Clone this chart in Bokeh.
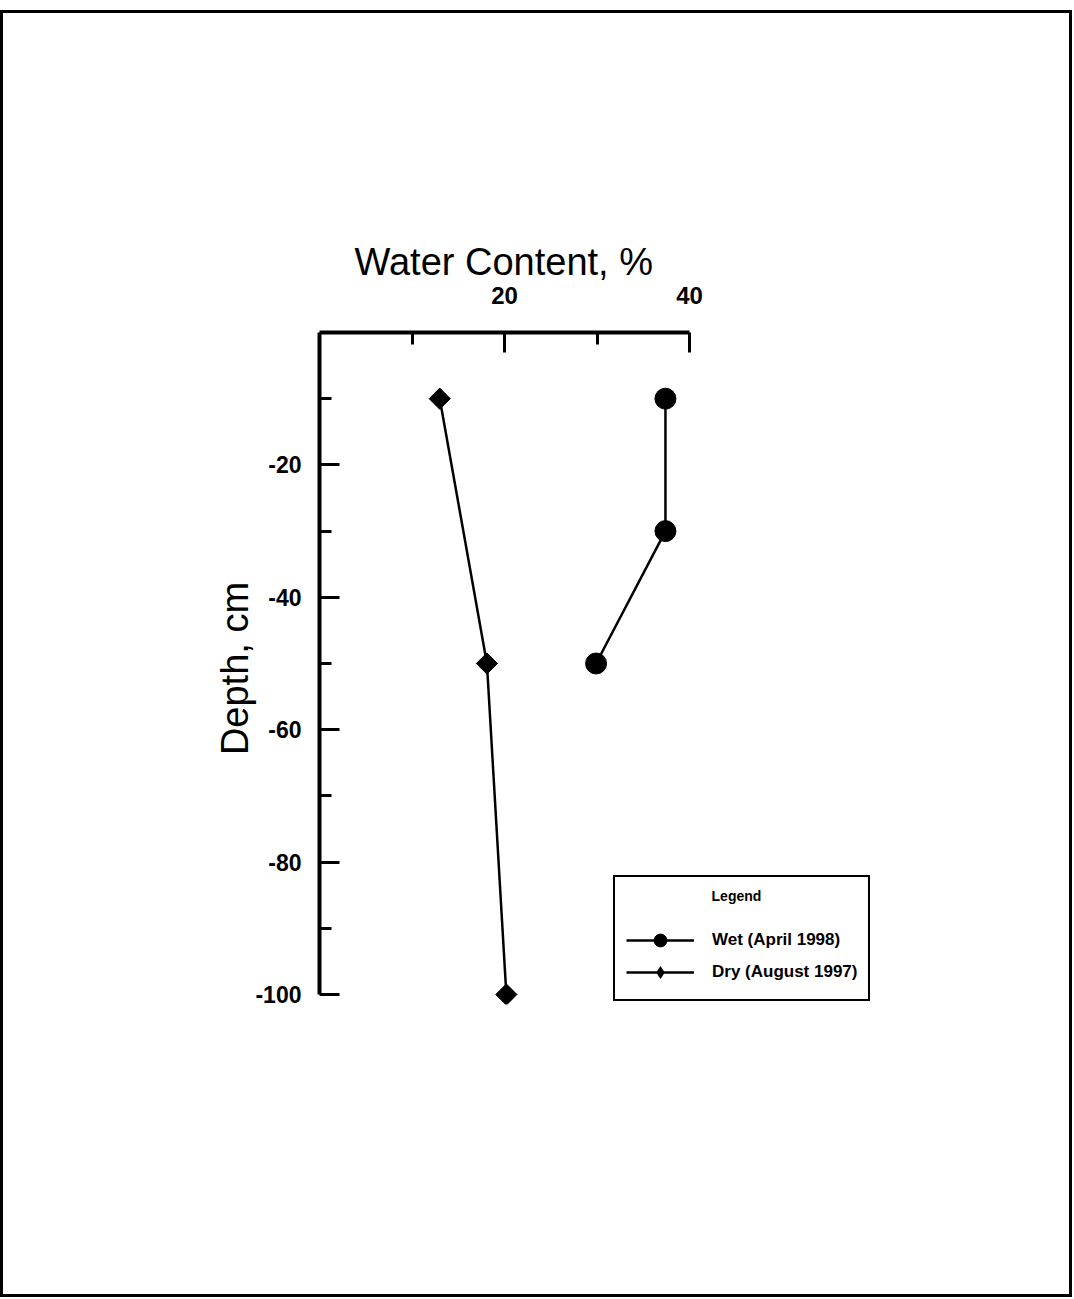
import math
from bokeh.plotting import figure
from bokeh.models import (Range1d, FixedTicker, Legend, LegendItem, PrintfTickFormatter)
from bokeh.embed import file_html
from bokeh.resources import INLINE

# ---- data ----
wet_depth = [-10, -30, -50]
wet_water = [37.4, 37.4, 29.9]
dry_depth = [-10, -50, -100]
dry_water = [13.0, 18.1, 20.2]

x_major_ticks = [20, 40]
x_minor_ticks = [10, 30]
y_major_ticks = [-20, -40, -60, -80, -100]
y_minor_ticks = [-10, -30, -50, -70, -90]

x_title = "Water Content, %"
y_title = "Depth, cm"
series_labels = ["Wet (April 1998)", "Dry (August 1997)"]

FONT = "Liberation Sans"

# frame extends beyond the axes so the legend is not clipped; axes use bounds
FW, FH = 574, 672
x_end = 40 * FW / 370
y_start = -100 * FH / 662

p = figure(
    frame_width=FW, frame_height=FH,
    x_range=Range1d(0, x_end), y_range=Range1d(y_start, 0),
    x_axis_location="above",
    output_backend="svg", toolbar_location=None,
    min_border_left=316, min_border_right=176,
    min_border_top=319, min_border_bottom=290,
)
p.styles = {"border": "3px solid black", "margin-top": "10px"}
p.outline_line_color = None
p.grid.grid_line_color = None
p.background_fill_color = "white"
p.border_fill_color = "white"

# x-axis title as plot title (aligned over the bounded axis)
p.title.text = x_title
p.title.align = "left"
p.title.offset = 35
p.title.text_font = FONT
p.title.text_font_size = "38px"
p.title.text_font_style = "normal"
p.title.text_color = "black"
p.title.standoff = 2

# x axis (top)
xa = p.xaxis[0]
xa.bounds = (0, 40)
xa.ticker = FixedTicker(ticks=x_major_ticks, minor_ticks=x_minor_ticks)
xa.formatter = PrintfTickFormatter(format="%d")
xa.major_label_text_font = FONT
xa.major_label_text_font_size = "24px"
xa.major_label_text_font_style = "bold"
xa.major_label_text_color = "black"
xa.major_label_standoff = 29
xa.axis_line_width = 4
xa.axis_line_color = "black"
xa.major_tick_in = 20
xa.major_tick_out = 0
xa.major_tick_line_width = 3
xa.minor_tick_in = 12
xa.minor_tick_out = 0
xa.minor_tick_line_width = 3

# y axis (left)
ya = p.yaxis[0]
ya.bounds = (-100, 0)
ya.ticker = FixedTicker(ticks=y_major_ticks, minor_ticks=y_minor_ticks)
ya.formatter = PrintfTickFormatter(format="%d")
ya.axis_label = y_title
ya.axis_label_text_font = FONT
ya.axis_label_text_font_size = "38px"
ya.axis_label_text_font_style = "normal"
ya.axis_label_text_color = "black"
ya.axis_label_standoff = -4
ya.major_label_text_font = FONT
ya.major_label_text_font_size = "23px"
ya.major_label_text_font_style = "bold"
ya.major_label_text_color = "black"
ya.major_label_standoff = 18
ya.axis_line_width = 4
ya.axis_line_color = "black"
ya.major_tick_in = 20
ya.major_tick_out = 0
ya.major_tick_line_width = 3
ya.minor_tick_in = 12
ya.minor_tick_out = 0
ya.minor_tick_line_width = 3

# series
wl = p.line(wet_water, wet_depth, line_color="black", line_width=2.5)
ws = p.scatter(wet_water, wet_depth, marker="circle", size=21,
               fill_color="black", line_color="black")
dl = p.line(dry_water, dry_depth, line_color="black", line_width=2.5)
ds = p.scatter(dry_water, dry_depth, marker="square", size=15, angle=math.pi / 4,
               fill_color="black", line_color="black")
# legend key showing the diamond shape (zero size on the plot itself)
dkey = p.scatter(dry_water, dry_depth, marker="diamond", size=0,
                 fill_color="black", line_color=None)

legend = Legend(
    items=[LegendItem(label=series_labels[0], renderers=[wl, ws]),
           LegendItem(label=series_labels[1], renderers=[dl, dkey])],
    location=(294, 3),
    title="\u00a0" * 22 + "Legend",
    title_text_font=FONT, title_text_font_size="14px", title_text_font_style="bold",
    title_text_color="black",
    title_standoff=20,
    label_text_font=FONT, label_text_font_size="17px", label_text_font_style="bold",
    label_text_color="black",
    label_standoff=18,
    glyph_width=68, glyph_height=32, spacing=0,
    padding=11, margin=0,
    border_line_color="black", border_line_width=2, border_line_alpha=1,
    background_fill_color="white", background_fill_alpha=1,
)
p.add_layout(legend, "center")

open("out.html", "w").write(file_html(p, INLINE))
